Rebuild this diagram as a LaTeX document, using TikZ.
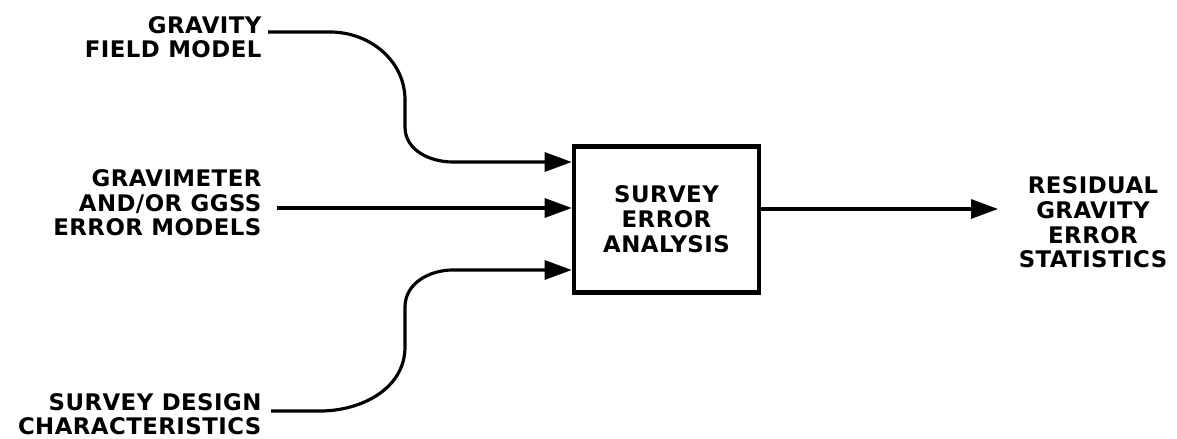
\documentclass[tikz,border=0pt]{standalone}
\usepackage{fontspec}
\setmainfont{DejaVu Sans}[LetterSpace=2]
\usetikzlibrary{arrows.meta}

\begin{document}
\begin{tikzpicture}[>={Triangle[length=0.54cm,width=0.38cm]}, x=0.02cm, y=0.02cm, line width=1.8pt,
    lbl/.style={inner sep=0pt, font=\fontsize{13}{14.2}\selectfont\bfseries},
    box/.style={lbl, draw, line width=2.6pt, minimum width=3.7cm, minimum height=2.92cm, align=center}]
    \useasboundingbox (0,0) rectangle (1177,439);
    \node[lbl, align=right, anchor=base east] (grav) at (263,381) {GRAVITY\\FIELD MODEL};
    \node[lbl, align=right, anchor=base east] (meter) at (263,203) {GRAVIMETER\\AND/OR GGSS\\ERROR MODELS};
    \node[lbl, align=right, anchor=base east] (design) at (263,4) {SURVEY DESIGN\\CHARACTERISTICS};
    \node[box] (ana) at (666.5,219.5) {SURVEY\\ERROR\\ANALYSIS};
    \node[lbl, align=center, anchor=base] (resid) at (1093,171) {RESIDUAL\\GRAVITY\\ERROR\\STATISTICS};
    \coordinate (g0) at (268,407);
    \coordinate (m0) at (277,231);
    \coordinate (d0) at (271,28);
    \coordinate (tip) at (998,230);
    \draw[->] (g0) -- (330,407) to[out=0,in=90] (405,339) -- (405,312)
        to[out=-90,in=180] (453,277) -- (ana.west |- 0,277);
    \draw[->] (m0) -- (ana.west |- m0);
    \draw[->] (d0) -- (320,28) to[out=0,in=-90] (405,92) -- (405,132)
        to[out=90,in=180] (453,169) -- (ana.west |- 0,169);
    \draw[->] (ana.east |- tip) -- (tip);
\end{tikzpicture}
\end{document}
